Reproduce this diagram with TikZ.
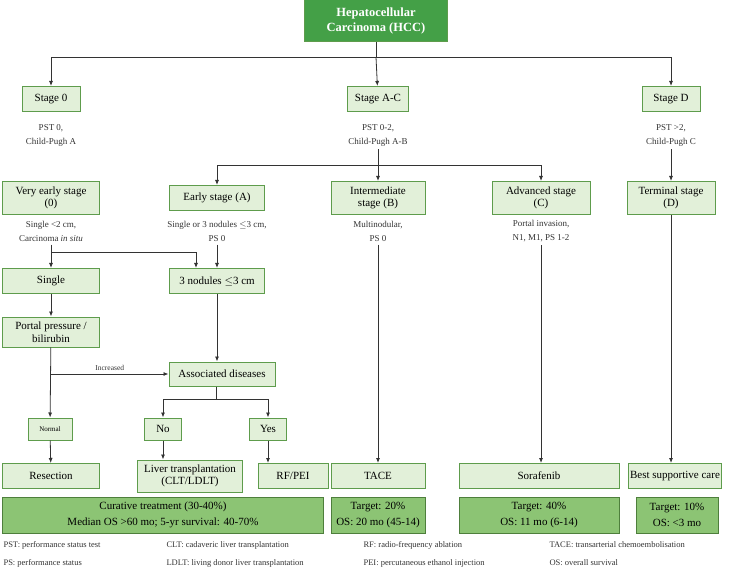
\documentclass[tikz,border=0pt]{standalone}
\usepackage{fontspec}
\setmainfont{Liberation Serif}
\usepackage{amssymb}
\usetikzlibrary{positioning,arrows.meta}
\definecolor{boxfill}{HTML}{E2F0D9}
\definecolor{boxline}{HTML}{5E9C4C}
\definecolor{topfill}{HTML}{44A047}
\definecolor{resfill}{HTML}{8CC474}
\definecolor{resline}{HTML}{4E7F3C}
\definecolor{txt}{HTML}{333333}
\tikzset{
  stage/.style={draw=boxline, fill=boxfill, line width=1pt, align=center,
    text=black, font=\fontsize{11}{12.5}\selectfont, inner sep=2pt},
  note/.style={align=center, text=txt, font=\fontsize{9}{14}\selectfont},
  result/.style={draw=resline, fill=resfill, line width=1pt, align=center,
    font=\fontsize{11}{16}\selectfont, inner sep=2pt},
  legend/.style={anchor=west, text=txt, font=\fontsize{8.5}{10}\selectfont},
  flow/.style={draw=txt, line width=0.8pt, -{Latex[length=5pt,width=4pt]}},
  plain/.style={draw=txt, line width=0.8pt}
}
\begin{document}
\begin{tikzpicture}[x=1pt,y=-1pt]
\useasboundingbox (0,0) rectangle (733,569);
%top
\node[draw=boxline, fill=topfill, line width=1pt, text=white, align=center,
  font=\bfseries\fontsize{12.5}{15}\selectfont, minimum width=143pt, minimum height=42pt]
  (hcc) at (376,21) {Hepatocellular\\Carcinoma (HCC)};
%stages
\node[stage, minimum width=58pt, minimum height=25pt] (s0) at (51,99) {Stage 0};
\node[stage, minimum width=61pt, minimum height=25pt] (sac) at (378,99) {Stage A-C};
\node[stage, minimum width=58pt, minimum height=25pt] (sd) at (671,99) {Stage D};
\node[note] (n0) at (51,135) {PST 0,\\Child-Pugh A};
\node[note] (nac) at (378,135) {PST 0-2,\\Child-Pugh A-B};
\node[note] (nd) at (671,135) {PST {>}2,\\Child-Pugh C};
%substages
\node[stage, minimum width=97pt, minimum height=33pt] (ve) at (51,198) {Very early stage\\(0)};
\node[stage, minimum width=95pt, minimum height=25pt] (ea) at (217,198) {Early stage (A)};
\node[stage, minimum width=94pt, minimum height=33pt] (ib) at (378,198) {Intermediate\\stage (B)};
\node[stage, minimum width=98pt, minimum height=33pt] (ac) at (541,198) {Advanced stage\\(C)};
\node[stage, minimum width=88pt, minimum height=33pt] (td) at (671,198) {Terminal stage\\(D)};
\node[note] (nve) at (51,231) {Single {<}2 cm,\\Carcinoma \textit{in situ}};
\node[note] (nea) at (217,231) {Single or 3 nodules $\leq$3 cm,\\PS 0};
\node[note] (nib) at (378,231) {Multinodular,\\PS 0};
\node[note] (nac2) at (541,231) {Portal invasion,\\N1, M1, PS 1-2};
%early branch
\node[stage, minimum width=97pt, minimum height=25pt] (single) at (51,281) {Single};
\node[stage, minimum width=95pt, minimum height=25pt] (three) at (217,281) {3 nodules $\leq$3 cm};
\node[stage, minimum width=97pt, minimum height=30pt] (portal) at (51,332) {Portal pressure /\\bilirubin};
\node[stage, minimum width=106pt, minimum height=24pt] (assoc) at (222,374) {Associated diseases};
\node[stage, font=\fontsize{7}{8}\selectfont, minimum width=44pt, minimum height=22pt] (normal) at (50,429) {Normal};
\node[stage, minimum width=37pt, minimum height=22pt] (no) at (163,429) {No};
\node[stage, minimum width=37pt, minimum height=22pt] (yes) at (268,429) {Yes};
%treatments
\node[stage, minimum width=97pt, minimum height=25pt] (resect) at (51,476) {Resection};
\node[stage, minimum width=105pt, minimum height=32pt] (liver) at (190,476) {Liver transplantation\\(CLT/LDLT)};
\node[stage, minimum width=70pt, minimum height=25pt] (rfpei) at (293,476) {RF/PEI};
\node[stage, minimum width=94pt, minimum height=25pt] (tace) at (378,476) {TACE};
\node[stage, minimum width=160pt, minimum height=25pt] (sora) at (539,476) {Sorafenib};
\node[stage, minimum width=92pt, minimum height=25pt] (bsc) at (675,476) {Best supportive care};
%results
\node[result, minimum width=321pt, minimum height=36pt] (cure) at (163,515) {Curative treatment (30-40\%)\\Median OS {>}60 mo; 5-yr survival: 40-70\%};
\node[result, minimum width=94pt, minimum height=36pt] (t20) at (378,515) {Target: 20\%\\OS: 20 mo (45-14)};
\node[result, minimum width=160pt, minimum height=36pt] (t40) at (539,515) {Target: 40\%\\OS: 11 mo (6-14)};
\node[result, minimum width=82pt, minimum height=36pt] (t10) at (677,515) {Target: 10\%\\OS: {<}3 mo};
%legend
\node[legend] (l1) at (0,545) {PST: performance status test};
\node[legend] (l2) at (0,563) {PS: performance status};
\node[legend] (l3) at (163,545) {CLT: cadaveric liver transplantation};
\node[legend] (l4) at (163,563) {LDLT: living donor liver transplantation};
\node[legend] (l5) at (360,545) {RF: radio-frequency ablation};
\node[legend] (l6) at (360,563) {PEI: percutaneous ethanol injection};
\node[legend] (l7) at (546,545) {TACE: transarterial chemoembolisation};
\node[legend] (l8) at (546,563) {OS: overall survival};
%connectors
\coordinate (j1) at (376,57);
\draw[plain] (hcc) -- (j1);
\draw[flow] (j1) -| (s0);
\draw[flow] (j1) -- (sac);
\draw[flow] (j1) -| (sd);
\coordinate (j2) at (378,165);
\draw[plain] (nac) -- (j2);
\draw[flow] (j2) -| (ea);
\draw[flow] (j2) -- (ib);
\draw[flow] (j2) -| (ac);
\draw[flow] (nd) -- (td);
\coordinate (j3) at (51,252);
\draw[plain] (nve) -- (j3);
\draw[flow] (j3) -- (single);
\draw[flow] (j3) -| ([xshift=-21pt]three.north);
\draw[flow] (nea) -- (three);
\draw[flow] (single) -- (portal);
\coordinate (j4) at (51,374);
\draw[flow] (j4) -- node[above, note, font=\fontsize{7.5}{8}\selectfont] {Increased} (assoc);
\draw[flow] (portal) -- (normal);
\draw[flow] (normal) -- (resect);
\draw[flow] (three) -- ([xshift=-5pt]assoc.north);
\coordinate (j5) at (216,399);
\draw[plain] ([xshift=-6pt]assoc.south) -- (j5);
\draw[flow] (j5) -| (no);
\draw[flow] (j5) -| (yes);
\draw[flow] (no) -- (no |- liver.north);
\draw[flow] (yes) -- (yes |- rfpei.north);
\draw[flow] (nib) -- (tace);
\draw[flow] (nac2) -- (sora.north -| nac2);
\draw[flow] (td) -- (bsc.north -| td);
\end{tikzpicture}
\end{document}
